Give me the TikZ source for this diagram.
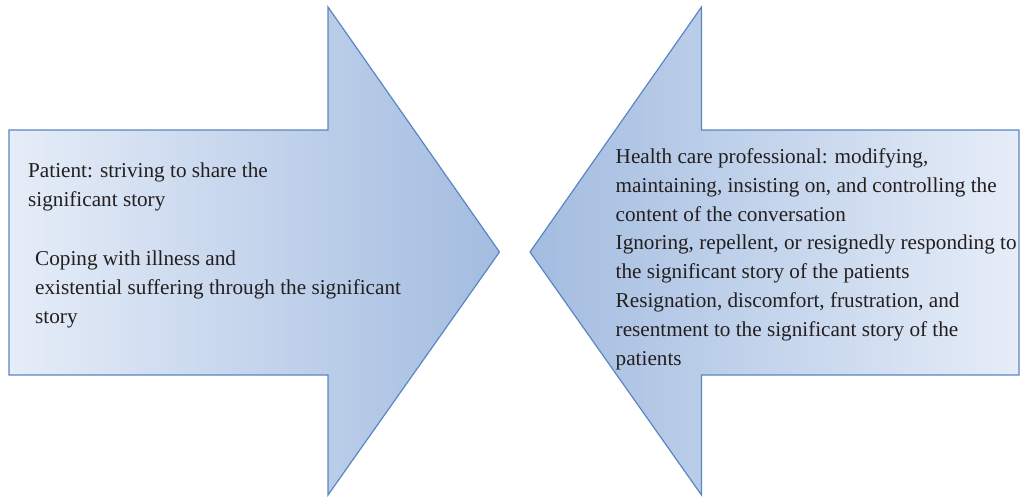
\documentclass[tikz,border=0pt]{standalone}
\usepackage{fontspec}
\setmainfont{Liberation Serif}
\definecolor{arrowline}{HTML}{5A86C2}
\definecolor{shadelight}{HTML}{E6EDF8}
\definecolor{shadedark}{HTML}{A3BCE0}
\definecolor{textcol}{HTML}{231F20}
\begin{document}
\begin{tikzpicture}[x=1pt,y=-1pt,
  bigarrow/.style={draw=arrowline, line width=1.2pt, line join=miter},
  % base anchor of a multi-line node sits on its last line
  label/.style={anchor=base west, inner sep=0pt, align=left, text=textcol,
    font=\fontsize{21.2}{28.8}\selectfont}]
\useasboundingbox (0,0) rectangle (1020,496);

% arrow pointing right (patient side)
\path[bigarrow, left color=shadelight, right color=shadedark]
  (9,130) -- (328,130) -- (328,7) -- (499.5,252) -- (328,495) -- (328,375) -- (9,375) -- cycle;

% arrow pointing left (professional side)
\path[bigarrow, left color=shadedark, right color=shadelight]
  (1019,130) -- (701.5,130) -- (701.5,7) -- (530,252) -- (701.5,495) -- (701.5,375) -- (1019,375) -- cycle;

\node[label] (patient) at (28,206) {Patient: striving to share the\\significant story};
\node[label] (coping) at (35,323) {Coping with illness and\\existential suffering through the significant\\story};

\node[label] (hcp) at (615.5,365) {Health care professional: modifying,\\maintaining, insisting on, and controlling the\\content of the conversation\\Ignoring, repellent, or resignedly responding to\\the significant story of the patients\\Resignation, discomfort, frustration, and\\resentment to the significant story of the\\patients};
\end{tikzpicture}
\end{document}
